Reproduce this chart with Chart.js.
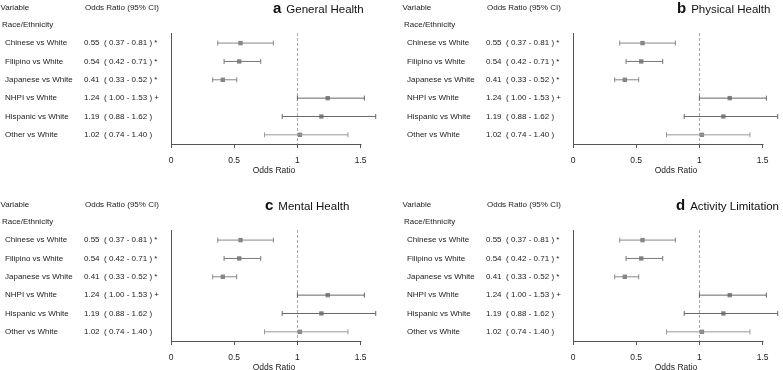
<!DOCTYPE html>
<html>
<head>
<meta charset="utf-8">
<script src="https://cdn.jsdelivr.net/npm/chart.js@4.4.1/dist/chart.umd.min.js"></script>
<style>
  html, body { margin: 0; padding: 0; background: #fff; overflow: hidden; }
  body { width: 783px; height: 370px; position: relative; }
  .panel { position: absolute; }
</style>
</head>
<body>
<canvas id="panelA" class="panel" width="381" height="176" style="left:0;top:0"></canvas>
<canvas id="panelB" class="panel" width="381" height="176" style="left:402px;top:0"></canvas>
<canvas id="panelC" class="panel" width="381" height="176" style="left:0;top:197px"></canvas>
<canvas id="panelD" class="panel" width="381" height="176" style="left:402px;top:197px"></canvas>
<script>
// ---- data (same estimates shown in all four panels) ----
const rowLabels = ['Chinese vs White', 'Filipino vs White', 'Japanese vs White',
                   'NHPI vs White', 'Hispanic vs White', 'Other vs White'];
const oddsRatio = [0.55, 0.54, 0.41, 1.24, 1.19, 1.02];
const ciLow     = [0.37, 0.42, 0.33, 1.00, 0.88, 0.74];
const ciHigh    = [0.81, 0.71, 0.52, 1.53, 1.62, 1.40];
const sigMark   = ['*', '*', '*', '+', '', ''];
const xTicks    = [0, 0.5, 1, 1.5];
const refOR     = 1;

const panelIds    = ['panelA', 'panelB', 'panelC', 'panelD'];
const panelLetter = ['a', 'b', 'c', 'd'];
const panelTitle  = ['General Health', 'Physical Health', 'Mental Health', 'Activity Limitation'];
const titleLeft   = [273, 275, 265, 274];

const rowColors = ['#888888', '#777777', '#888888', '#666666', '#666666', '#9a9a9a'];
const FONT = "'Liberation Sans', Arial, sans-serif";
const TXT = '#222';

function fmt(v) { return v.toFixed(2); }

// text columns, axis lines and the reference line
const forestPlugin = {
  id: 'forest',
  beforeDatasetsDraw(chart, args, opts) {
    const { ctx, chartArea, scales: { x } } = chart;
    const xr = x.getPixelForValue(refOR);
    ctx.save();
    ctx.strokeStyle = '#aaaaaa';
    ctx.lineWidth = 1;
    ctx.setLineDash([3, 2]);
    ctx.beginPath();
    ctx.moveTo(Math.round(xr) + 0.5, chartArea.top);
    ctx.lineTo(Math.round(xr) + 0.5, chartArea.bottom);
    ctx.stroke();
    ctx.restore();
  },
  afterDraw(chart, args, opts) {
    const { ctx, chartArea, scales: { x, y } } = chart;
    ctx.save();
    // axes
    ctx.strokeStyle = '#555';
    ctx.lineWidth = 1;
    const x0 = Math.round(x.getPixelForValue(xTicks[0])) + 0.5;
    const yb = Math.round(chartArea.bottom) + 0.5;
    ctx.beginPath();
    ctx.moveTo(x0, chartArea.top);
    ctx.lineTo(x0, yb);
    ctx.lineTo(Math.round(x.getPixelForValue(xTicks[xTicks.length - 1])) + 0.5, yb);
    ctx.stroke();

    // left text table
    ctx.fillStyle = TXT;
    ctx.textBaseline = 'middle';
    ctx.font = `8px ${FONT}`;
    const yHead = y.getPixelForValue(-1.95);
    ctx.fillText('Variable', 0.5, yHead);
    ctx.fillText('Odds Ratio (95% CI)', 85, yHead);
    ctx.fillText('Race/Ethnicity', 2, y.getPixelForValue(-1));
    rowLabels.forEach((lab, i) => {
      const yy = y.getPixelForValue(i);
      ctx.fillText(lab, 5, yy);
      const s = `${fmt(oddsRatio[i])}  ( ${fmt(ciLow[i])} - ${fmt(ciHigh[i])} ) ${sigMark[i]}`;
      ctx.fillText(s, 84, yy);
    });

    // panel title
    ctx.textBaseline = 'alphabetic';
    ctx.font = `bold 15px ${FONT}`;
    ctx.fillStyle = '#111';
    ctx.fillText(opts.letter, opts.left, 13);
    const w = ctx.measureText(opts.letter).width;
    ctx.font = `11.5px ${FONT}`;
    ctx.fillText(opts.title, opts.left + w + 5, 13);
    ctx.restore();
  }
};

function makePanel(k) {
  const ciSets = rowLabels.map((lab, i) => ({
    type: 'line',
    data: [{ x: ciLow[i], y: i }, { x: ciHigh[i], y: i }],
    borderColor: rowColors[i],
    borderWidth: 1,
    pointStyle: 'line',
    rotation: 90,
    pointRadius: 2.5,
    pointBorderWidth: 1,
    pointBorderColor: rowColors[i],
    pointHoverRadius: 0
  }));
  const pointSet = {
    type: 'scatter',
    data: oddsRatio.map((v, i) => ({ x: v, y: i })),
    pointStyle: 'rect',
    pointRadius: 3.1,
    pointBackgroundColor: '#858585',
    pointBorderWidth: 0
  };
  new Chart(document.getElementById(panelIds[k]), {
    type: 'scatter',
    data: { datasets: [...ciSets, pointSet] },
    plugins: [forestPlugin],
    options: {
      responsive: false,
      animation: false,
      events: [],
      layout: { padding: { left: 171, top: 33, right: 0, bottom: 0 } },
      plugins: {
        legend: { display: false },
        tooltip: { enabled: false },
        forest: { letter: panelLetter[k], title: panelTitle[k], left: titleLeft[k] }
      },
      scales: {
        x: {
          type: 'linear', min: 0, max: 1.63,
          border: { display: false },
          grid: { display: true, drawOnChartArea: false, drawTicks: true, tickLength: 4, color: '#555' },
          afterBuildTicks: s => { s.ticks = xTicks.map(v => ({ value: v })); },
          afterFit: s => { s.height = 32; },
          ticks: { includeBounds: false, padding: 7.5, color: TXT, font: { family: FONT, size: 8.5 },
                   callback: v => String(v) },
          title: { display: true, text: 'Odds Ratio', color: TXT, font: { family: FONT, size: 8.5 },
                   padding: { top: 0.5, bottom: 0 } }
        },
        y: { type: 'linear', min: -0.55, max: 5.5, reverse: true, display: false }
      }
    }
  });
}

for (let k = 0; k < 4; k++) makePanel(k);
</script>
</body>
</html>
